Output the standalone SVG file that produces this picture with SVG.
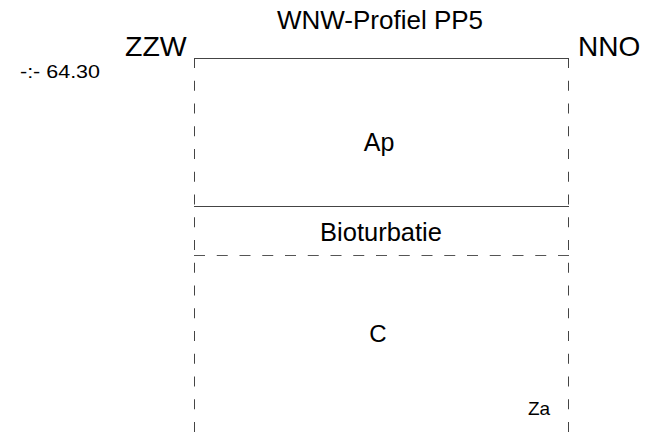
<svg xmlns="http://www.w3.org/2000/svg" width="663" height="432" viewBox="0 0 663 432">
<style>
text{font-family:"Liberation Sans",Arial,sans-serif;fill:#000}
.solid{stroke:#444;stroke-width:1;fill:none}
.vdash{stroke:#444;stroke-width:1;fill:none;stroke-dasharray:10 12.75}
.hdash{stroke:#555;stroke-width:1;fill:none;stroke-dasharray:11 11.75}
</style>
<rect width="663" height="432" fill="#fff"/>
<g id="labels">
<text x="380" y="29" font-size="26" text-anchor="middle">WNW-Profiel PP5</text>
<text x="125" y="56" font-size="28.5">ZZW</text>
<text x="578" y="56" font-size="28">NNO</text>
<text x="20" y="78" font-size="19" textLength="80" lengthAdjust="spacingAndGlyphs">-:- 64.30</text>
</g>
<g id="connectors">
<line class="solid" x1="194" y1="58.5" x2="569" y2="58.5"/>
<line class="solid" x1="194" y1="206.5" x2="569" y2="206.5"/>
<line class="vdash" x1="194.5" y1="58" x2="194.5" y2="432"/>
<line class="vdash" x1="568.5" y1="58" x2="568.5" y2="432"/>
<line class="hdash" x1="194" y1="255.5" x2="569" y2="255.5"/>
</g>
<g id="ap"><text x="379" y="151" font-size="25" text-anchor="middle">Ap</text></g>
<g id="bioturbatie"><text x="381" y="241" font-size="25.5" text-anchor="middle">Bioturbatie</text></g>
<g id="c"><text x="378" y="342" font-size="24" text-anchor="middle">C</text></g>
<g id="za"><text x="528" y="415" font-size="19">Za</text></g>
</svg>
